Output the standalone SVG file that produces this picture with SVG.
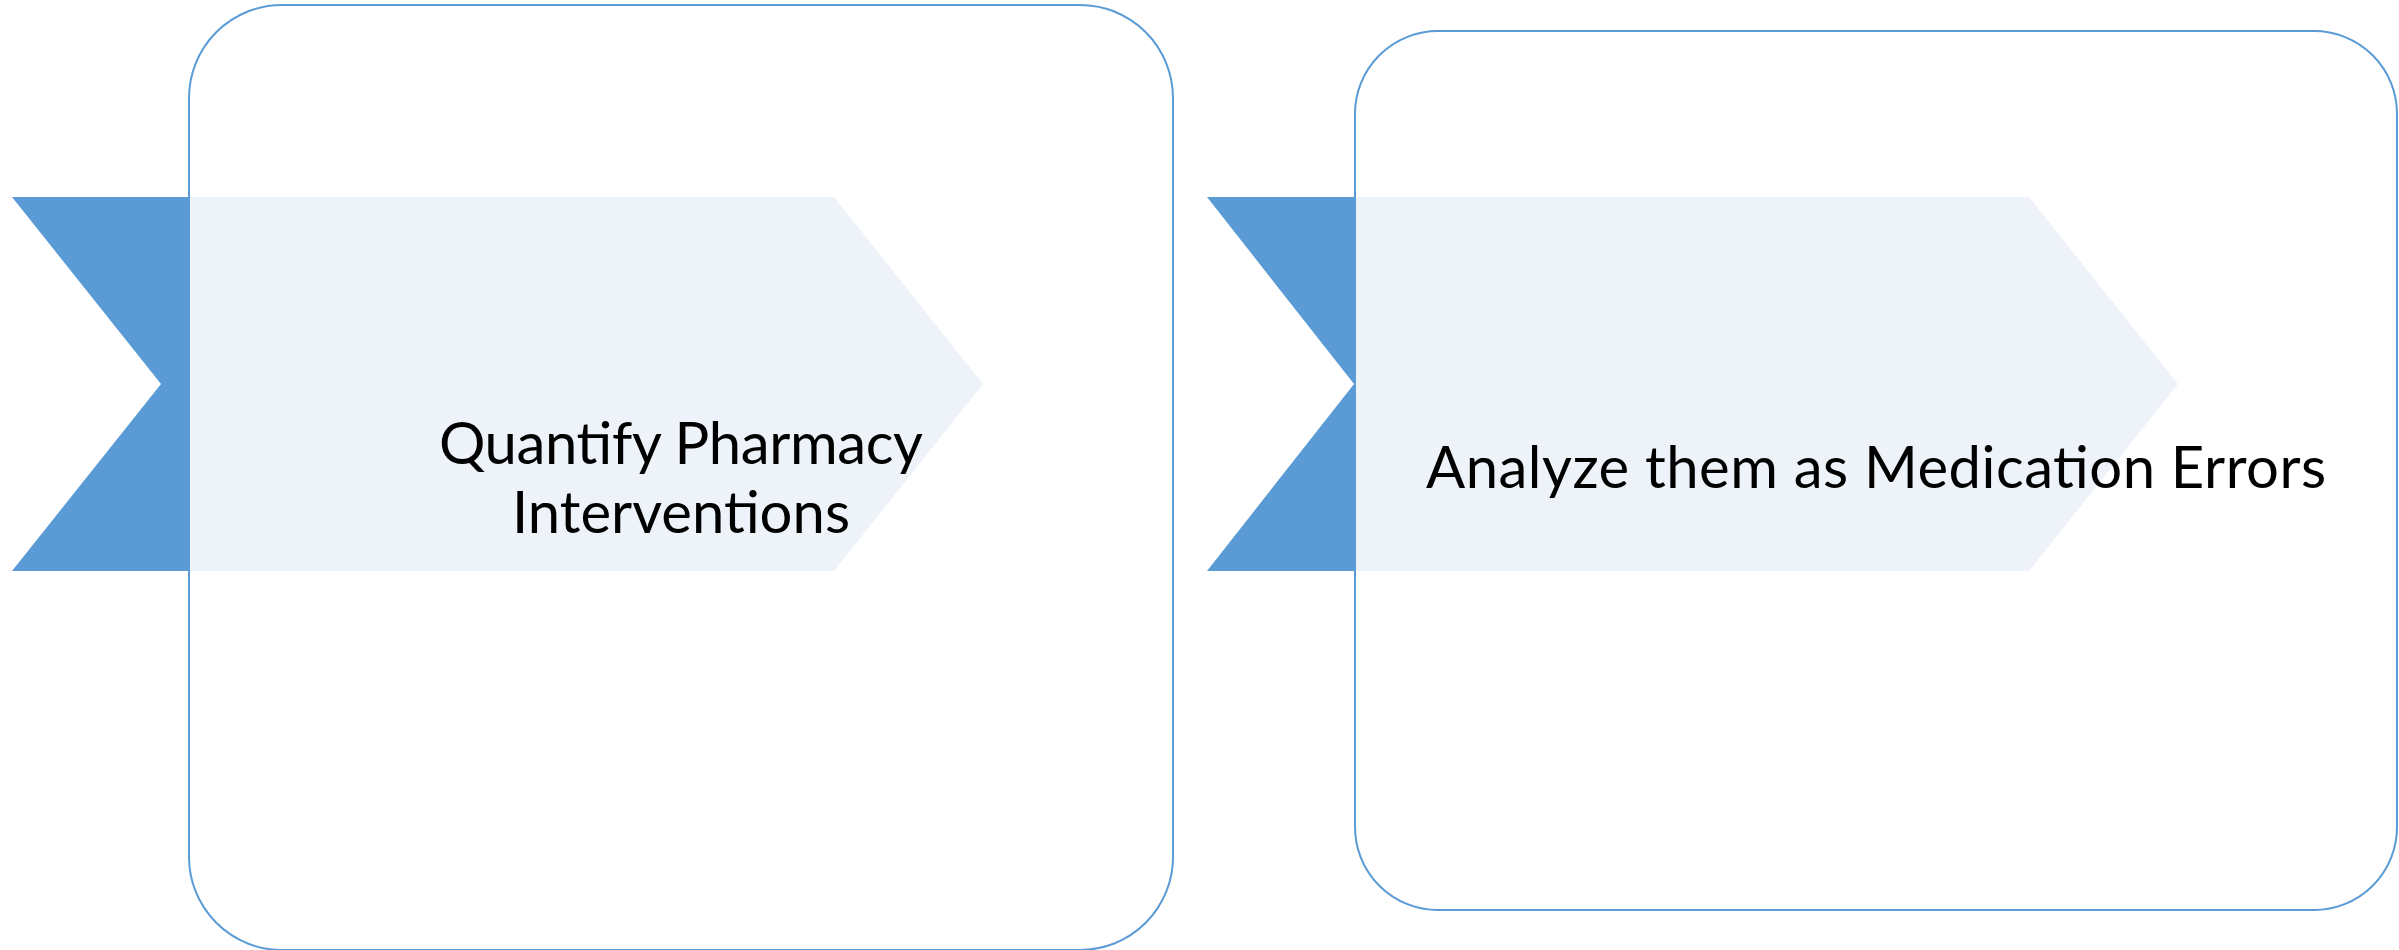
<svg xmlns="http://www.w3.org/2000/svg" width="2399" height="950" viewBox="0 0 2399 950">
  <style>
    .panel { fill: #FFFFFF; stroke: #5B9BD5; stroke-width: 2; }
    .band-dark { fill: #5B9BD5; }
    .band-light { fill: #EEF3FA; }
    .label { font-family: Lato, "Open Sans", "Liberation Sans", sans-serif; font-size: 58px; fill: #000000; text-anchor: middle; }
  </style>
  <rect width="2399" height="950" fill="#FFFFFF"/>

  <!-- Step 1 -->
  <g id="step-quantify">
    <rect class="panel" x="189" y="5" width="984" height="945" rx="93" ry="93"/>
    <polygon class="band-dark" points="12,197 190,197 190,571 12,571 161,384"/>
    <polygon class="band-light" points="190,197 834,197 983,384 834,571 190,571"/>
    <text class="label" x="681" y="464" textLength="484" lengthAdjust="spacing">Quantify Pharmacy</text>
    <text class="label" x="681" y="533" textLength="338" lengthAdjust="spacing">Interventions</text>
  </g>

  <!-- Step 2 -->
  <g id="step-analyze">
    <rect class="panel" x="1355" y="31" width="1042" height="879" rx="83" ry="83"/>
    <polygon class="band-dark" points="1207,197 1356,197 1356,571 1207,571 1354,384"/>
    <polygon class="band-light" points="1356,197 2029,197 2178,384 2029,571 1356,571"/>
    <text class="label" x="1876" y="488" textLength="900" lengthAdjust="spacing">Analyze them as Medication Errors</text>
  </g>
</svg>
